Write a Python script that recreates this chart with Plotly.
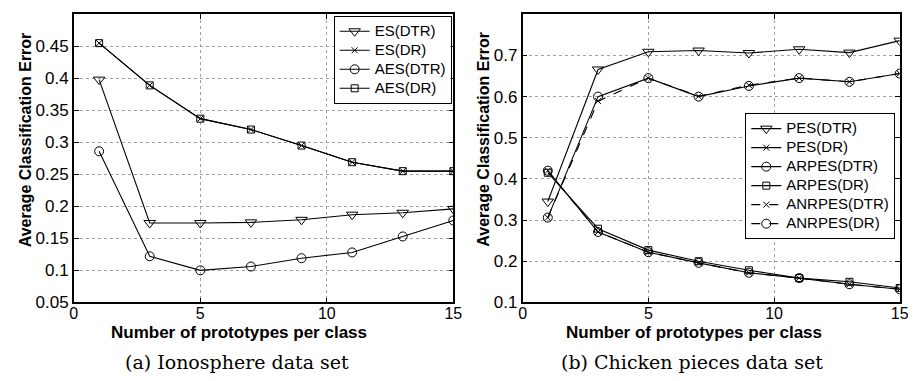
import plotly.graph_objects as go

# ---------------- data ----------------
x_protos = [1, 3, 5, 7, 9, 11, 13, 15]

# (a) Ionosphere
es_dtr = [0.398, 0.174, 0.174, 0.175, 0.179, 0.187, 0.190, 0.196]
es_dr = [0.455, 0.389, 0.337, 0.320, 0.295, 0.269, 0.255, 0.255]
aes_dtr = [0.286, 0.122, 0.100, 0.106, 0.119, 0.128, 0.153, 0.178]
aes_dr = [0.455, 0.389, 0.337, 0.320, 0.295, 0.269, 0.255, 0.255]

# (b) Chicken pieces
pes_dtr = [0.345, 0.666, 0.709, 0.712, 0.706, 0.715, 0.707, 0.736]
pes_dr = [0.420, 0.271, 0.222, 0.196, 0.172, 0.159, 0.144, 0.132]
arpes_dtr = [0.306, 0.600, 0.645, 0.600, 0.626, 0.645, 0.636, 0.656]
arpes_dr = [0.415, 0.279, 0.227, 0.200, 0.178, 0.159, 0.150, 0.135]
anrpes_dtr = [0.306, 0.589, 0.645, 0.601, 0.628, 0.645, 0.636, 0.656]
anrpes_dr = [0.420, 0.271, 0.222, 0.196, 0.172, 0.159, 0.144, 0.132]

left_yticks = [0.05, 0.1, 0.15, 0.2, 0.25, 0.3, 0.35, 0.4, 0.45]
right_yticks = [0.1, 0.2, 0.3, 0.4, 0.5, 0.6, 0.7, 0.8]
x_ticks = [0, 5, 10, 15]

x_title = "Number of prototypes per class"
y_title = "Average Classification Error"
caption_a = "(a) Ionosphere data set"
caption_b = "(b) Chicken pieces data set"

# ---------------- styles ----------------
W, H = 916, 381
SANS = "Liberation Sans, Arial, sans-serif"
SERIF = "DejaVu Serif, serif"

styles = {
    "tri": dict(symbol="triangle-down-open", size=10),
    "x": dict(symbol="x-thin-open", size=6),
    "circ": dict(symbol="circle-open", size=9),
    "sq": dict(symbol="square-open", size=7),
}

fig = go.Figure()


def add(xv, yv, name, mk, dash, xa, ya, legend):
    m = dict(styles[mk])
    m.update(color="black", line=dict(color="black", width=1))
    fig.add_trace(go.Scatter(
        x=xv, y=yv, name='<span style="font-size:15px">%s</span>' % name,
        mode="lines+markers",
        line=dict(color="black", width=1.1, dash=dash),
        marker=m, xaxis=xa, yaxis=ya, legend=legend))


add(x_protos, es_dtr, "ES(DTR)", "tri", "solid", "x", "y", "legend")
add(x_protos, es_dr, "ES(DR)", "x", "solid", "x", "y", "legend")
add(x_protos, aes_dtr, "AES(DTR)", "circ", "solid", "x", "y", "legend")
add(x_protos, aes_dr, "AES(DR)", "sq", "solid", "x", "y", "legend")

add(x_protos, pes_dtr, "PES(DTR)", "tri", "solid", "x2", "y2", "legend2")
add(x_protos, pes_dr, "PES(DR)", "x", "solid", "x2", "y2", "legend2")
add(x_protos, arpes_dtr, "ARPES(DTR)", "circ", "solid", "x2", "y2", "legend2")
add(x_protos, arpes_dr, "ARPES(DR)", "sq", "solid", "x2", "y2", "legend2")
add(x_protos, anrpes_dtr, "ANRPES(DTR)", "x", "dash", "x2", "y2", "legend2")
add(x_protos, anrpes_dr, "ANRPES(DR)", "circ", "dash", "x2", "y2", "legend2")

axis_common = dict(
    showline=True, linecolor="black", linewidth=1.5, mirror="ticks",
    ticks="inside", ticklen=5, tickcolor="black",
    showgrid=True, gridcolor="#a0a0a0", griddash="dot", gridwidth=1,
    zeroline=False,
)
xfont = dict(family=SANS, size=16, color="black")
yfont = dict(family=SANS, size=17, color="black")

ydom = [(H - 302.3) / H, (H - 6.5) / H]
legend_common = dict(xanchor="right", yanchor="top",
                     bgcolor="white", bordercolor="black", borderwidth=1,
                     font=dict(family=SANS, size=11, color="black"),
                     tracegroupgap=0, itemwidth=30)
fig.update_layout(
    width=W, height=H, margin=dict(l=0, r=0, t=0, b=0),
    paper_bgcolor="white", plot_bgcolor="white", showlegend=True,
    xaxis=dict(domain=[62.7 / W, 447.7 / W], range=[0, 15], tickvals=x_ticks,
               anchor="y", tickfont=xfont, ticklabelstandoff=-4, **axis_common),
    yaxis=dict(domain=ydom, range=[0.05, 0.5], tickvals=left_yticks,
               anchor="x", tickfont=yfont, **axis_common),
    xaxis2=dict(domain=[518 / W, 900.5 / W], range=[0, 15], tickvals=x_ticks,
                anchor="y2", tickfont=xfont, ticklabelstandoff=-4, **axis_common),
    yaxis2=dict(domain=ydom, range=[0.1, 0.8], tickvals=right_yticks,
                anchor="x2", tickfont=yfont, **axis_common),
    legend=dict(x=446 / W, y=(H - 8) / H, **legend_common),
    legend2=dict(x=896 / W, y=(H - 108) / H, **legend_common),
)

ann = []
for cx in (230, 692):
    ann.append(dict(text="<b>%s</b>" % x_title, x=cx / W, y=(H - 333) / H,
                    xref="paper", yref="paper", showarrow=False,
                    xanchor="center", yanchor="middle",
                    font=dict(family=SANS, size=17, color="black")))
for cx in (14, 478):
    ann.append(dict(text="<b>%s</b>" % y_title, x=cx / W, y=(H - 135) / H,
                    xref="paper", yref="paper", showarrow=False, textangle=-90,
                    xanchor="center", yanchor="middle",
                    font=dict(family=SANS, size=16, color="black")))
for cx, cap in ((228, caption_a), (690, caption_b)):
    ann.append(dict(text=cap, x=cx / W, y=(H - 364) / H,
                    xref="paper", yref="paper", showarrow=False,
                    xanchor="center", yanchor="middle",
                    font=dict(family=SERIF, size=19, color="black")))
fig.update_layout(annotations=ann)

fig.write_html("out.html")
